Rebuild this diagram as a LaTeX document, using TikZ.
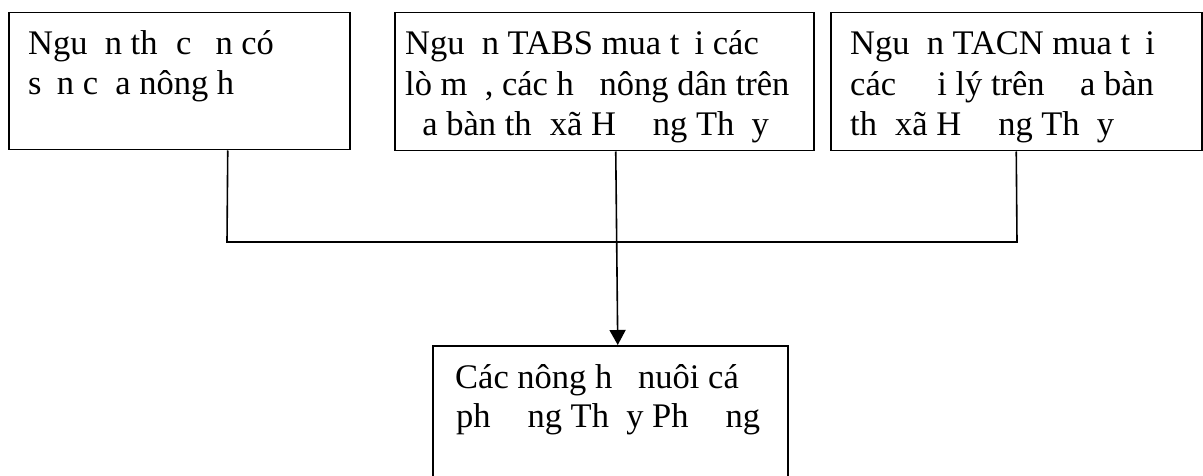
\documentclass[tikz,border=0pt]{standalone}
\usepackage{fontspec}
\setmainfont{Liberation Serif}
\usetikzlibrary{arrows.meta}
\tikzset{
  box/.style={draw, line width=1.5pt, inner sep=0pt, anchor=north west},
  txt/.style={anchor=base west, inner sep=0pt, font=\fontsize{34.5}{40}\selectfont},
  link/.style={line width=1.6pt},
  arr/.style={line width=1.6pt, -{Triangle[width=16pt,length=15pt]}}
}
\begin{document}
\begin{tikzpicture}[x=1pt,y=-1pt]
\useasboundingbox (0,0) rectangle (1203,476);
% boxes
\node[box, minimum width=341pt, minimum height=137pt] (b1) at (8,12) {};
\node[box, minimum width=419pt, minimum height=138pt] (b2) at (394,12) {};
\node[box, minimum width=371pt, minimum height=138pt] (b3) at (830,12) {};
\node[box, minimum width=355pt, minimum height=145pt] (b4) at (432,345) {};
% texts
\node[txt] (t11) at (28,54.5) {Ngu\hphantom{ồ}n th\hphantom{ứ}c \hphantom{ă}n có};
\node[txt] (t12) at (28,94.5) {s\hphantom{ẵ}n c\hphantom{ủ}a nông h\hphantom{ộ}};
\node[txt] (t21) at (405,54.5) {Ngu\hphantom{ồ}n TABS mua t\hphantom{ạ}i các};
\node[txt] (t22) at (405,95.5) {lò m\hphantom{ổ}, các h\hphantom{ộ} nông dân trên};
\node[txt] (t23) at (405,136) {\hphantom{đ}a bàn th\hphantom{ị} xã H\hphantom{ươ}ng Th\hphantom{ủ}y};
\node[txt] (t31) at (850,54.5) {Ngu\hphantom{ồ}n TACN mua t\hphantom{ạ}i};
\node[txt] (t32) at (850,95.5) {các \hphantom{đạ}i lý trên \hphantom{đị}a bàn};
\node[txt] (t33) at (850,136) {th\hphantom{ị} xã H\hphantom{ươ}ng Th\hphantom{ủ}y};
\node[txt] (t41) at (455,388) {Các nông h\hphantom{ộ} nuôi cá};
\node[txt] (t42) at (456,427) {ph\hphantom{ườ}ng Th\hphantom{ủ}y Ph\hphantom{ươ}ng};
% connectors
\coordinate (j1) at (227,242);
\coordinate (j3) at (1017,242);
\draw[link] ([xshift=48.5pt]b1.south) -- (j1) -- (j3) -- (b3.south);
\draw[arr] ([xshift=11.5pt]b2.south) -- ([xshift=7.5pt]b4.north);
\end{tikzpicture}
\end{document}
